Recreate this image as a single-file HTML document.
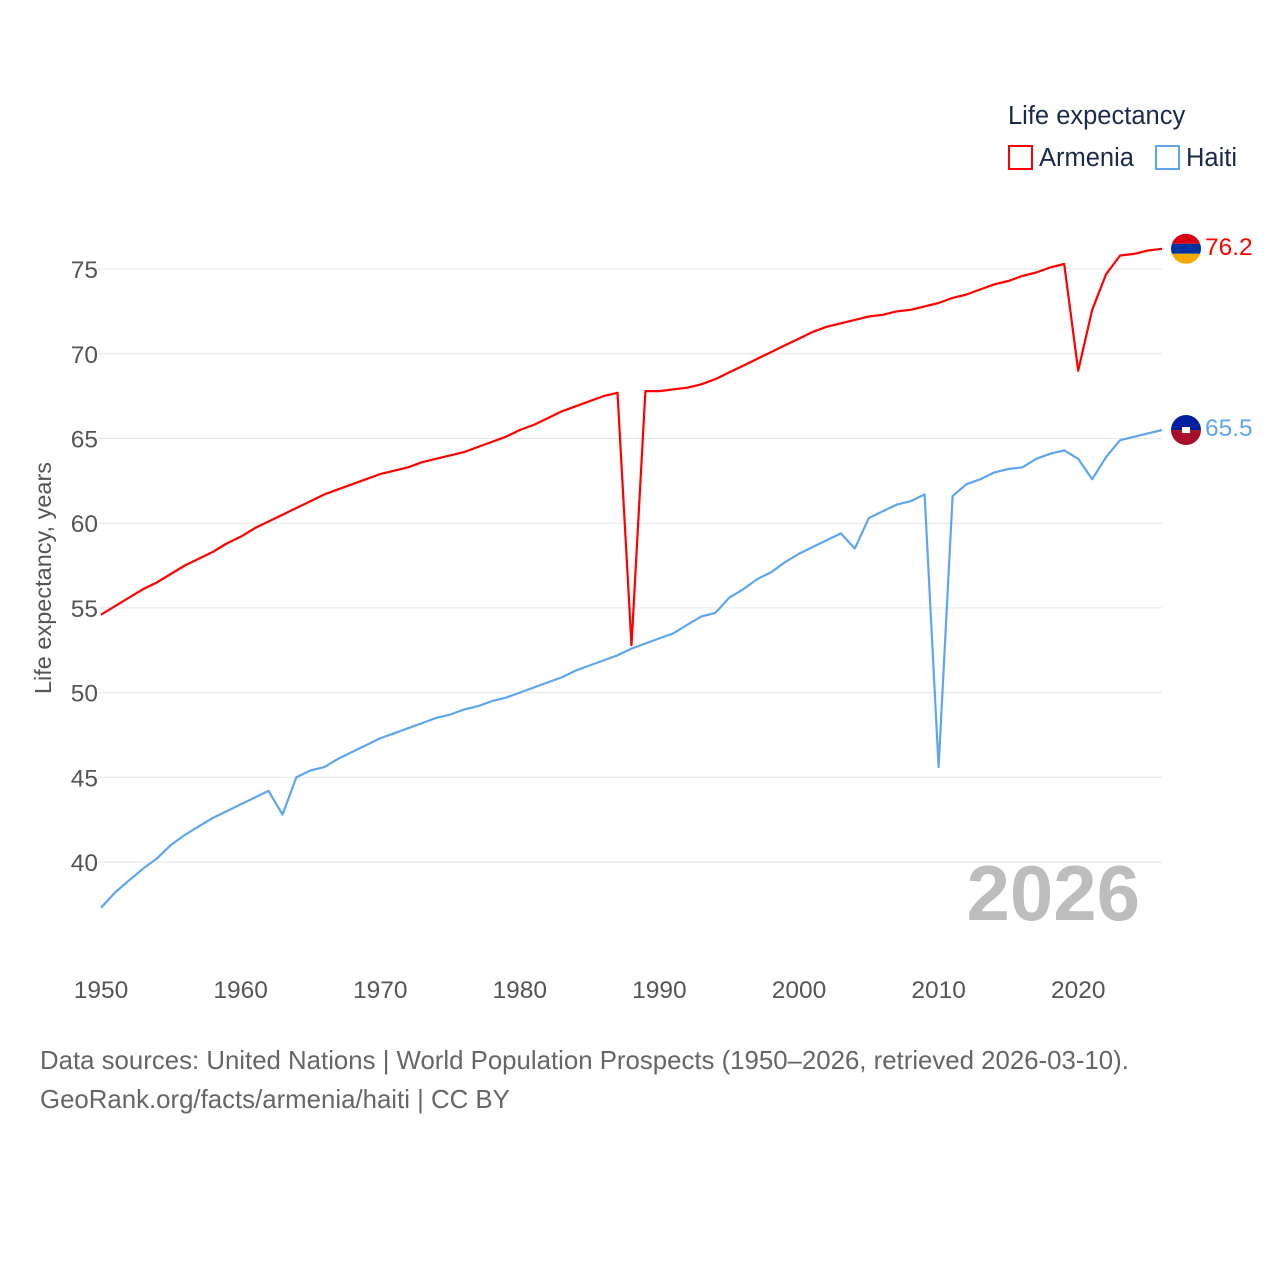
<!DOCTYPE html>
<html><head><meta charset="utf-8"><style>
body{margin:0;background:#fff;}
svg{display:block;font-family:"Liberation Sans",sans-serif;}
</style></head><body>
<svg id="chart" width="1280" height="1280" viewBox="0 0 1280 1280">
<g id="grid"></g>
<g id="yticks"></g>
<g id="xticks"></g>
<text transform="translate(51,578) rotate(-90)" text-anchor="middle" font-size="23.5" fill="#555">Life expectancy, years</text>
<text x="1140" y="920" text-anchor="end" font-size="78" font-weight="bold" fill="#bdbdbd">2026</text>
<g id="lines"></g>
<g>
<text x="1008" y="124" font-size="25.5" fill="#1a2a4a">Life expectancy</text>
<rect x="1009" y="146" width="23" height="23" fill="none" stroke="#ff0000" stroke-width="2"/>
<text x="1039" y="166" font-size="25.5" fill="#1a2a4a">Armenia</text>
<rect x="1156" y="146" width="23" height="23" fill="none" stroke="#5ea6ee" stroke-width="2"/>
<text x="1186" y="166" font-size="25.5" fill="#1a2a4a">Haiti</text>
</g>
<text x="40" y="1069" font-size="25.8" fill="#666">Data sources: United Nations | World Population Prospects (1950–2026, retrieved 2026-03-10).</text>
<text x="40" y="1108" font-size="25.8" fill="#666">GeoRank.org/facts/armenia/haiti | CC BY</text>
</svg>
<script>
const years=[];for(let y=1950;y<=2026;y++)years.push(y);
const armenia=[54.6,55.1,55.6,56.1,56.5,57.0,57.5,57.9,58.3,58.8,59.2,59.7,60.1,60.5,60.9,61.3,61.7,62.0,62.3,62.6,62.9,63.1,63.3,63.6,63.8,64.0,64.2,64.5,64.8,65.1,65.5,65.8,66.2,66.6,66.9,67.2,67.5,67.7,52.8,67.8,67.8,67.9,68.0,68.2,68.5,68.9,69.3,69.7,70.1,70.5,70.9,71.3,71.6,71.8,72.0,72.2,72.3,72.5,72.6,72.8,73.0,73.3,73.5,73.8,74.1,74.3,74.6,74.8,75.1,75.3,69.0,72.6,74.7,75.8,75.9,76.1,76.2];
const haiti=[37.3,38.2,38.9,39.6,40.2,41.0,41.6,42.1,42.6,43.0,43.4,43.8,44.2,42.8,45.0,45.4,45.6,46.1,46.5,46.9,47.3,47.6,47.9,48.2,48.5,48.7,49.0,49.2,49.5,49.7,50.0,50.3,50.6,50.9,51.3,51.6,51.9,52.2,52.6,52.9,53.2,53.5,54.0,54.5,54.7,55.6,56.1,56.7,57.1,57.7,58.2,58.6,59.0,59.4,58.5,60.3,60.7,61.1,61.3,61.7,45.6,61.6,62.3,62.6,63.0,63.2,63.3,63.8,64.1,64.3,63.8,62.6,63.9,64.9,65.1,65.3,65.5];
const yTicks=[40,45,50,55,60,65,70,75];
const xTicks=[1950,1960,1970,1980,1990,2000,2010,2020];
const X=y=>101+(y-1950)*13.96;
const Y=v=>862-(v-40)*16.94;
const NS="http://www.w3.org/2000/svg";
function mk(tag,parent,attrs){const e=document.createElementNS(NS,tag);for(const k in attrs)e.setAttribute(k,attrs[k]);parent.appendChild(e);return e;}
const grid=document.getElementById('grid'),yt=document.getElementById('yticks'),xt=document.getElementById('xticks'),lines=document.getElementById('lines');
yTicks.forEach(v=>{
 const l=mk('line',grid,{x1:98,x2:1162,y1:Y(v),y2:Y(v),stroke:'#e6e6e6','stroke-width':1});
 
 
 const t=mk('text',yt,{x:98,y:Y(v)+9,'text-anchor':'end','font-size':24.5,fill:'#555'});
 t.textContent=v;
 
 
});
xTicks.forEach(y=>{
 const t=mk('text',xt,{x:X(y),y:998,'text-anchor':'middle','font-size':24.5,fill:'#555'});
 t.textContent=y;
 
 
});
function series(vals,color,name){
 const d=vals.map((v,i)=>(i?'L':'M')+X(years[i]).toFixed(1)+','+Y(v).toFixed(1)).join('');
 const p=mk('path',lines,{d:d,fill:'none',stroke:color,'stroke-width':2.2,'stroke-linejoin':'round'});
 
 
 const last=vals[vals.length-1],cy=Y(last),cx=1186;
 const g=mk('g',lines,{});
 
 
 const clip=mk('clipPath',g,{id:'c'+name});mk('circle',clip,{cx:cx,cy:cy,r:15});
 if(name==='armenia'){
  mk('rect',g,{x:cx-15,y:cy-15,width:30,height:10,fill:'#d90012','clip-path':'url(#c'+name+')'});
  mk('rect',g,{x:cx-15,y:cy-5,width:30,height:10,fill:'#0033a0','clip-path':'url(#c'+name+')'});
  mk('rect',g,{x:cx-15,y:cy+5,width:30,height:10,fill:'#f2a800','clip-path':'url(#c'+name+')'});
 }else{
  mk('rect',g,{x:cx-15,y:cy-15,width:30,height:15,fill:'#00209f','clip-path':'url(#c'+name+')'});
  mk('rect',g,{x:cx-15,y:cy,width:30,height:15,fill:'#a8102a','clip-path':'url(#c'+name+')'});
  mk('rect',g,{x:cx-4,y:cy-3,width:8,height:6,fill:'#fff'});
 }
 const t=mk('text',lines,{x:1205,y:cy+6,'font-size':24.5,fill:color});
 t.textContent=last.toFixed(1);
 
 
}
series(armenia,'#ff0000','armenia');
series(haiti,'#5ea6ee','haiti');
</script>
</body></html>
